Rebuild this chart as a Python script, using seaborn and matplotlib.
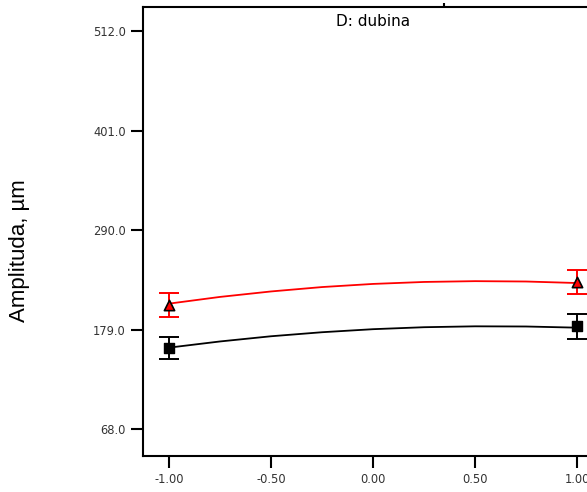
import numpy as np
import pandas as pd
import matplotlib
matplotlib.use("Agg")
import matplotlib.pyplot as plt
import seaborn as sns

# values
depth = [-1.00, -0.75, -0.50, -0.25, 0.00, 0.25, 0.50, 0.75, 1.00]
curve_high = [208.0, 215.5, 221.6, 226.5, 230.0, 232.2, 233.1, 232.7, 231.0]
curve_low = [158.9, 165.8, 171.6, 176.1, 179.5, 181.7, 182.7, 182.5, 181.2]

point_x = [-1.00, 1.00]
point_high = [207.0, 232.5]
point_low = [158.5, 182.5]
err_high = [13.4, 13.4]
err_low = [12.3, 13.4]

xticks = [-1.0, -0.5, 0.0, 0.5, 1.0]
yticks = [68.0, 179.0, 290.0, 401.0, 512.0]

sns.set_style("white")
plt.rcParams['font.family'] = ['DejaVu Sans']

fig = plt.figure(figsize=(5.87, 4.92), dpi=100)
ax = fig.add_axes([143 / 587, 36 / 492, 460 / 587, 449 / 492])

df = pd.DataFrame({"x": depth * 2,
                   "y": curve_low + curve_high,
                   "level": ["low"] * len(depth) + ["high"] * len(depth)})
sns.lineplot(data=df, x="x", y="y", hue="level", palette={"low": "black", "high": "red"},
             linewidth=1.3, legend=False, ax=ax, clip_on=False)

# error bars and points
ax.errorbar(point_x, point_high, yerr=err_high, fmt="none", ecolor="red",
            elinewidth=1.4, capsize=7.5, capthick=1.4, clip_on=False)
ax.errorbar(point_x, point_low, yerr=err_low, fmt="none", ecolor="black",
            elinewidth=1.4, capsize=7.5, capthick=1.4, clip_on=False)
ax.scatter(point_x, point_high, marker="^", s=55, color="red", edgecolor="black",
           linewidth=1.2, zorder=5, clip_on=False)
ax.scatter(point_x, point_low, marker="s", s=50, color="black", zorder=5, clip_on=False)

ax.set_xlim(-1.127, 1.127)
ax.set_ylim(38, 539)
ax.set_xticks(xticks)
ax.set_xticklabels(["%.2f" % t for t in xticks])
ax.set_yticks(yticks)
ax.set_yticklabels(["%.1f" % t for t in yticks])
ax.tick_params(axis="both", direction="out", length=8.5, width=1.5, labelsize=8.3,
               labelcolor="#333333", color="black", pad=4,
               bottom=True, left=True)

for side in ["left", "bottom", "top", "right"]:
    ax.spines[side].set_visible(True)
    ax.spines[side].set_color("black")
    ax.spines[side].set_linewidth(1.5)

# small mark on the top edge
top = ax.secondary_xaxis("top")
top.set_xticks([0.35])
top.set_xticklabels([""])
top.tick_params(direction="out", length=3, width=1.5, color="black")
top.spines["top"].set_visible(False)

ax.set_xlabel("")
ax.set_ylabel("Amplituda, µm", fontsize=16, family="Liberation Sans", color="black")
ax.yaxis.set_label_coords(-0.245, 0.457)
ax.text(0.0, 0.985, "D: dubina", transform=ax.get_xaxis_transform(),
        ha="center", va="top", fontsize=11, color="black")

fig.savefig("out.png", dpi=100)
